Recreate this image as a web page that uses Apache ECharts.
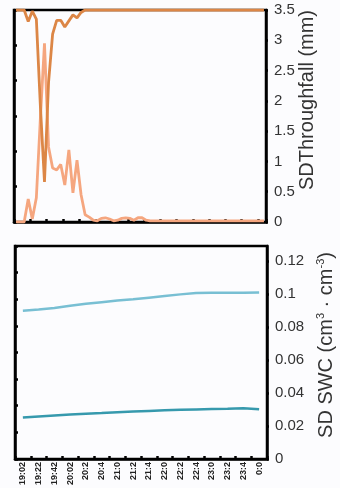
<!DOCTYPE html>
<html>
<head>
<meta charset="utf-8">
<script src="https://cdn.jsdelivr.net/npm/echarts@6/dist/echarts.min.js"></script>
<style>
html,body{margin:0;padding:0;background:#fcfcfe;}
#chart{width:340px;height:488px;}
</style>
</head>
<body>
<div id="chart"></div>
<script>
// ---- Top panel: 5-minute categories ----
var topTimes = ['19:00','19:05','19:10','19:15','19:20','19:25','19:30','19:35','19:40','19:45','19:50','19:55',
  '20:00','20:05','20:10','20:15','20:20','20:25','20:30','20:35','20:40','20:45','20:50','20:55',
  '21:00','21:05','21:10','21:15','21:20','21:25','21:30','21:35','21:40','21:45','21:50','21:55',
  '22:00','22:05','22:10','22:15','22:20','22:25','22:30','22:35','22:40','22:45','22:50','22:55',
  '23:00','23:05','23:10','23:15','23:20','23:25','23:30','23:35','23:40','23:45','23:50','23:55',
  '0:00','0:05'];

var throughfallDark = [3.5,3.5,3.5,3.31,3.48,3.35,1.9,0.66,2.3,3.1,3.33,3.33,
  3.22,3.32,3.42,3.37,3.46,3.5,3.5,3.5,3.5,3.5,3.5,3.5,
  3.5,3.5,3.5,3.5,3.5,3.5,3.5,3.5,3.5,3.5,3.5,3.5,
  3.5,3.5,3.5,3.5,3.5,3.5,3.5,3.5,3.5,3.5,3.5,3.5,
  3.5,3.5,3.5,3.5,3.5,3.5,3.5,3.5,3.5,3.5,3.5,3.5,
  3.5,3.5];

var throughfallLight = [0,0,0,0.38,0.05,0.4,1.73,2.95,1.24,0.89,0.86,0.95,
  0.61,1.19,0.48,1.02,0.45,0.12,0.08,0.03,0.02,0.06,0.07,0.05,
  0.02,0.03,0.06,0.07,0.06,0.03,0.07,0.07,0.03,0.02,0.02,0.02,
  0.02,0.02,0.02,0.02,0.02,0.02,0.02,0.02,0.02,0.02,0.02,0.02,
  0.02,0.02,0.02,0.02,0.02,0.02,0.02,0.02,0.02,0.02,0.02,0.02,
  0.02,0.02];

var topTicks = [0,0.5,1,1.5,2,2.5,3,3.5];

// ---- Bottom panel: 20-minute categories ----
var bottomLabels = ['19:02','19:22','19:42','20:02','20:2','20:4','21:0','21:2','21:4','22:0','22:2','22:4','23:0','23:2','23:4','0:0'];

var swcLight = [0.0898,0.0905,0.0915,0.0928,0.0940,0.0950,0.0960,0.0967,0.0977,0.0987,0.0997,0.1006,0.1007,0.1007,0.1007,0.1009];
var swcDark  = [0.0251,0.0258,0.0264,0.0270,0.0274,0.0278,0.0283,0.0287,0.0291,0.0295,0.0298,0.0300,0.0302,0.0304,0.0308,0.0301];

var bottomTicks = [0,0.02,0.04,0.06,0.08,0.1,0.12];

var BLACK = '#000';
var LABEL = '#333';
var FONT = 'Liberation Sans, Arial, sans-serif';

var chart = echarts.init(document.getElementById('chart'), null, {renderer:'canvas'});

function frameAxisLine(){ return {show:true, onZero:false, lineStyle:{color:BLACK, width:2.5}}; }

var option = {
  backgroundColor:'#fcfcfe',
  animation:false,
  grid:[
    {left:14, top:10, width:252, height:212, show:true, borderColor:BLACK, borderWidth:2.5, backgroundColor:'transparent'},
    {left:15, top:246, width:252, height:213, show:true, borderColor:BLACK, borderWidth:2.5, backgroundColor:'transparent'}
  ],
  xAxis:[
    {type:'category', gridIndex:0, data:topTimes, boundaryGap:true,
     axisLine:frameAxisLine(),
     axisTick:{show:true, interval:3, inside:true, length:3, lineStyle:{color:BLACK, width:2.5}},
     axisLabel:{show:false}, splitLine:{show:false}},
    {type:'category', gridIndex:1, data:bottomLabels, boundaryGap:true,
     axisLine:frameAxisLine(),
     axisTick:{show:true, interval:0, inside:true, length:3, lineStyle:{color:BLACK, width:2.5}},
     axisLabel:{show:true, interval:0, rotate:90, fontSize:9, fontWeight:'bold', color:'#222', fontFamily:FONT, margin:3},
     splitLine:{show:false}}
  ],
  yAxis:[
    {type:'value', gridIndex:0, position:'right', min:topTicks[0], max:topTicks[topTicks.length-1], interval:0.5,
     axisLine:frameAxisLine(),
     axisTick:{show:true, length:2, lineStyle:{color:BLACK, width:2.5}},
     axisLabel:{show:true, fontSize:15, color:LABEL, fontFamily:FONT, margin:8},
     splitLine:{show:false}},
    {type:'value', gridIndex:0, position:'left', min:0, max:6, interval:1,
     axisLine:frameAxisLine(),
     axisTick:{show:true, inside:true, length:3, lineStyle:{color:BLACK, width:2.5}},
     axisLabel:{show:false}, splitLine:{show:false}},
    {type:'value', gridIndex:1, position:'right', min:bottomTicks[0], max:0.129, interval:0.02,
     axisLine:frameAxisLine(),
     axisTick:{show:true, length:2, lineStyle:{color:BLACK, width:2.5}},
     axisLabel:{show:true, showMaxLabel:false, fontSize:15, color:LABEL, fontFamily:FONT, margin:8,
       formatter:function(v){ return bottomTicks.indexOf(Math.round(v*100)/100) >= 0 ? String(Math.round(v*100)/100) : ''; }},
     splitLine:{show:false}},
    {type:'value', gridIndex:1, position:'left', min:0, max:8, interval:1,
     axisLine:frameAxisLine(),
     axisTick:{show:true, inside:true, length:3, lineStyle:{color:BLACK, width:2.5}},
     axisLabel:{show:false}, splitLine:{show:false}}
  ],
  graphic:[
    {type:'text', x:307, y:100, rotation:Math.PI/2,
     style:{text:'SDThroughfall (mm)', font:'20px ' + FONT, fill:LABEL, align:'center', verticalAlign:'middle'}},
    {type:'text', x:326, y:345, rotation:Math.PI/2,
     style:{text:'SD SWC (cm{s|3} · cm{s|-3})', font:'20px ' + FONT, fill:LABEL, align:'center', verticalAlign:'middle',
       rich:{s:{fontSize:11, fontFamily:FONT, fill:LABEL, verticalAlign:'top', lineHeight:22}}}}
  ],
  series:[
    {type:'line', xAxisIndex:0, yAxisIndex:0, data:throughfallLight, symbol:'none',
     lineStyle:{color:'#f5a67f', width:2.8}, z:3},
    {type:'line', xAxisIndex:0, yAxisIndex:0, data:throughfallDark, symbol:'none',
     lineStyle:{color:'#dc8646', width:2.8}, z:4},
    {type:'line', xAxisIndex:1, yAxisIndex:2, data:swcLight, symbol:'none',
     lineStyle:{color:'#78bfd3', width:2.5}, z:3},
    {type:'line', xAxisIndex:1, yAxisIndex:2, data:swcDark, symbol:'none',
     lineStyle:{color:'#3699ad', width:2.5}, z:4}
  ]
};
chart.setOption(option);
</script>
</body>
</html>
